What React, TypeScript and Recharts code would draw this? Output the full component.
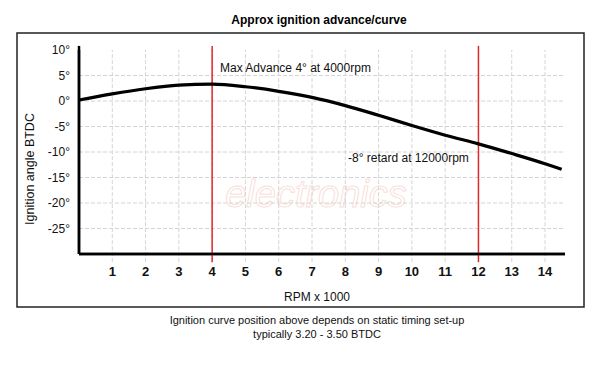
import React from "react";
import { Line, LineChart, ReferenceLine, XAxis, YAxis } from "recharts";

const rpm = [0, 1, 2, 3, 4, 5, 6, 7, 8, 9, 10, 11, 12, 13, 14, 14.5];
const advance = [0.2, 1.4, 2.4, 3.1, 3.3, 2.8, 1.9, 0.7, -0.9, -2.8, -4.8, -6.7, -8.4, -10.3, -12.3, -13.4];
const xTicks = [1, 2, 3, 4, 5, 6, 7, 8, 9, 10, 11, 12, 13, 14];
const yTicks = [10, 5, 0, -5, -10, -15, -20, -25];
const markers = [4, 12];

const data = rpm.map((r, i) => ({ rpm: r, adv: advance[i] }));

const font = "'Liberation Sans', Arial, sans-serif";
const gridColor = "#d4d4d4";

function XTick({ x, y, payload }: any) {
  return (
    <text x={x} y={y + 14} textAnchor="middle" fontFamily={font} fontSize={13} fontWeight="bold" fill="#111">
      {payload.value}
    </text>
  );
}

function YTick({ y, payload }: any) {
  return (
    <text x={70} y={y + 4} textAnchor="end" fontFamily={font} fontSize={12} fill="#111">
      {payload.value}°
    </text>
  );
}

export default function App() {
  return (
    <div style={{ position: "absolute", left: 0, top: 0, width: 600, height: 367, background: "#fff" }}>
      <svg width={600} height={367} style={{ position: "absolute", left: 0, top: 0 }}>
        <text x={316} y={207} textAnchor="middle" fontFamily={font} fontSize={38} fontStyle="italic" fill="none" stroke="#f8e0da" strokeWidth={1}>
          electronics
        </text>
      </svg>
      <div style={{ position: "absolute", left: 0, top: 0 }}>
        <LineChart width={600} height={367} data={data} margin={{ top: 50, right: 35, bottom: 83, left: 39 }}>
          <XAxis
            dataKey="rpm"
            type="number"
            domain={[0, 14.6]}
            ticks={xTicks}
            height={30}
            tick={<XTick />}
            tickLine={false}
            axisLine={{ stroke: "#000", strokeWidth: 2.5 }}
          />
          <YAxis
            type="number"
            domain={[-30, 10]}
            ticks={yTicks}
            width={40}
            tick={<YTick />}
            tickLine={false}
            axisLine={{ stroke: "#000", strokeWidth: 2.5 }}
          />
          {yTicks.slice(1).map((t) => (
            <ReferenceLine key={"h" + t} y={t} stroke={gridColor} strokeWidth={1} strokeDasharray="4 2" />
          ))}
          {xTicks.map((t) => (
            <ReferenceLine
              key={"v" + t}
              segment={[{ x: t, y: -31.6 }, { x: t, y: 10 }]}
              stroke={gridColor}
              strokeWidth={1}
              strokeDasharray="4 2"
              ifOverflow="visible"
            />
          ))}
          <ReferenceLine
            segment={[{ x: 0, y: -30 }, { x: 0, y: 10.8 }]}
            stroke="#000"
            strokeWidth={2.5}
            ifOverflow="visible"
          />
          <ReferenceLine
            segment={[{ x: 0, y: -30 }, { x: 14.6, y: -30 }]}
            stroke="#000"
            strokeWidth={2.5}
            ifOverflow="visible"
          />
          {markers.map((m) => (
            <ReferenceLine
              key={m}
              segment={[{ x: m, y: -31.6 }, { x: m, y: 10.8 }]}
              stroke="#e0282a"
              strokeWidth={1.5}
              ifOverflow="visible"
            />
          ))}
          <Line type="monotone" dataKey="adv" stroke="#000" strokeWidth={3.2} dot={false} isAnimationActive={false} />
        </LineChart>
      </div>
      <svg width={600} height={367} style={{ position: "absolute", left: 0, top: 0, pointerEvents: "none" }}>
        <rect x={17} y={33} width={567} height={274} fill="none" stroke="#222" strokeWidth={1.5} />
        <text x={319} y={24} textAnchor="middle" fontFamily={font} fontSize={12} fontWeight="bold" fill="#000">
          Approx ignition advance/curve
        </text>
        <text x={220} y={72} fontFamily={font} fontSize={12} fill="#111">
          Max Advance 4° at 4000rpm
        </text>
        <text x={348} y={162} fontFamily={font} fontSize={12} fill="#111">
          -8° retard at 12000rpm
        </text>
        <text x={317} y={301} textAnchor="middle" fontFamily={font} fontSize={12} fill="#111">
          RPM x 1000
        </text>
        <text
          x={31}
          y={169}
          textAnchor="middle"
          fontFamily={font}
          fontSize={12.5}
          fill="#111"
          transform="rotate(-90 31 169)"
          dominantBaseline="middle"
        >
          Ignition angle BTDC
        </text>
        <text x={317} y={324} textAnchor="middle" fontFamily={font} fontSize={11} fill="#111">
          Ignition curve position above depends on static timing set-up
        </text>
        <text x={317} y={338} textAnchor="middle" fontFamily={font} fontSize={11} fill="#111">
          typically 3.20 - 3.50 BTDC
        </text>
      </svg>
    </div>
  );
}
